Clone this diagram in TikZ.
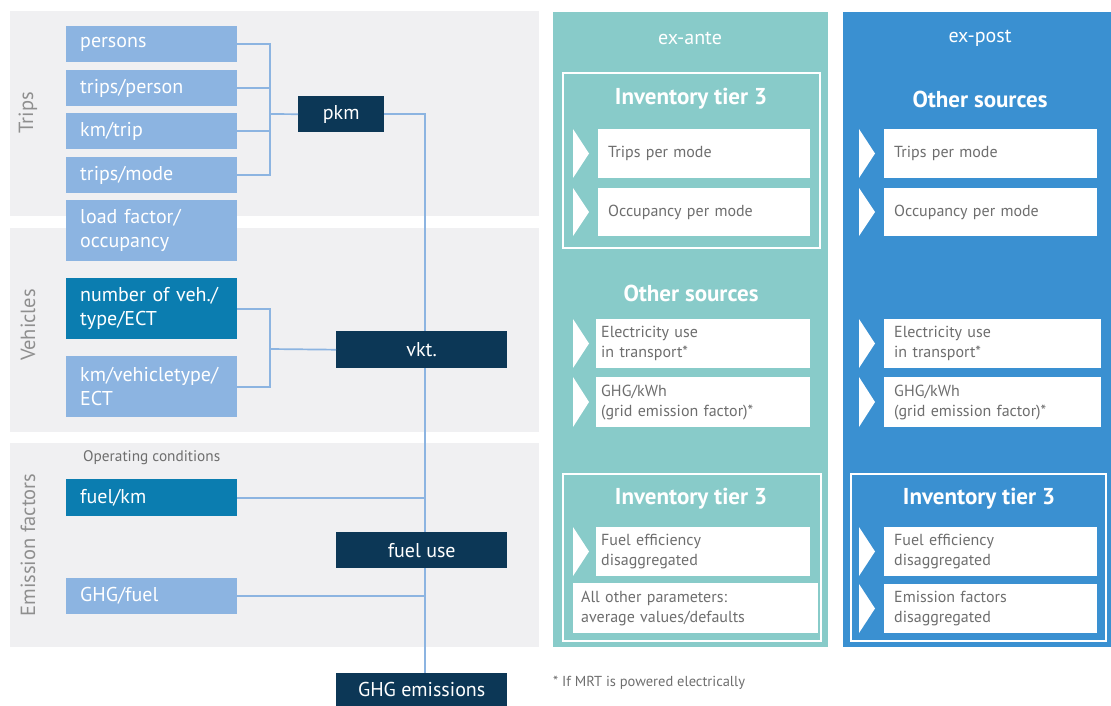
\documentclass[tikz,border=0pt]{standalone}
\usepackage{fontspec}
\setmainfont{PT Sans}
\definecolor{bandgray}{HTML}{F0F0F2}
\definecolor{lightb}{HTML}{8CB4E1}
\definecolor{tealb}{HTML}{0B7DB0}
\definecolor{navy}{HTML}{0C3756}
\definecolor{anteC}{HTML}{88CBC9}
\definecolor{postC}{HTML}{3A90D1}
\definecolor{lblgray}{HTML}{8F8F8F}
\definecolor{itemgray}{HTML}{6E6E6E}
\definecolor{connC}{HTML}{8CB4E1}
\tikzset{
  inbox/.style={anchor=north west, inner xsep=14pt, inner ysep=0pt, text width=143pt,
    minimum height=#1, align=left, text=white, font=\fontsize{20}{24}\selectfont},
  lbox/.style={inbox=#1, fill=lightb},
  tbox/.style={inbox=#1, fill=tealb},
  dbox/.style={anchor=north west, inner sep=0pt, minimum width=171pt, minimum height=36pt,
    fill=navy, text=white, font=\fontsize{20}{22}\selectfont},
  conn/.style={draw=connC, line width=1.7pt},
  sidelbl/.style={rotate=90, text=lblgray, font=\fontsize{20.5}{22}\selectfont},
  colttl/.style={text=white, font=\fontsize{20}{22}\selectfont},
  secttl/.style={text=white, font=\bfseries\fontsize{23}{26}\selectfont},
  item/.style={anchor=north west, fill=white, inner xsep=10pt, inner ysep=0pt,
    minimum height=#1, align=left, text=itemgray, font=\fontsize{16}{20}\selectfont},
  frame/.style={draw=white, line width=1.8pt},
  chev/.style={fill=white},
}
\begin{document}
\begin{tikzpicture}[x=1pt,y=-1pt]
\useasboundingbox (0,0) rectangle (1111,706);
% bands
\fill[bandgray] (10,11) rectangle (539,216);
\fill[bandgray] (10,228) rectangle (539,432);
\fill[bandgray] (10,443) rectangle (539,647);
\node[sidelbl] (lTrips) at (28,113) {Trips};
\node[sidelbl] (lVeh) at (28,325) {Vehicles};
\node[sidelbl] (lEm) at (28,545) {Emission factors};
% input boxes
\node[lbox=36pt] (persons) at (66,26) {persons};
\node[lbox=36pt] (tperson) at (66,70) {trips/person};
\node[lbox=36pt] (kmtrip) at (66,113) {km/trip};
\node[lbox=36pt] (tmode) at (66,157) {trips/mode};
\node[lbox=61pt] (load) at (66,200) {load factor/\\occupancy};
\node[tbox=61pt] (nveh) at (66,278) {number of veh./\\type/ECT};
\node[lbox=61pt] (kmveh) at (66,356) {km/vehicletype/\\ECT};
\node[anchor=west, text=itemgray, font=\fontsize{15.3}{18}\selectfont, inner sep=0pt] (opc) at (83,458) {Operating conditions};
\node[tbox=37pt] (fuelkm) at (66,479) {fuel/km};
\node[lbox=36pt] (ghgfuel) at (66,578) {GHG/fuel};
% result boxes
\node[dbox, minimum width=86pt] (pkm) at (298,96) {pkm};
\node[dbox, minimum height=37pt] (vkt) at (336,331) {vkt.};
\node[dbox] (fueluse) at (336,532) {fuel use};
\node[dbox, minimum height=33pt] (ghg) at (336,673) {GHG emissions};
% connectors
\coordinate (tj) at (270,114);
\coordinate (vj) at (270,349);
\coordinate (vx) at ([xshift=3.5pt]vkt.south);
\draw[conn] (persons.east) -| (tj);
\draw[conn] (tmode.east) -| (tj);
\draw[conn] (tperson.east) -- (tperson.east -| tj);
\draw[conn] (kmtrip.east) -- (kmtrip.east -| tj);
\draw[conn] (tj) -- (pkm.west);
\draw[conn] (nveh.east) -| (vj);
\draw[conn] (kmveh.east) -| (vj);
\draw[conn] (vj) -- (vkt.west);
\draw[conn] (pkm.east) -| ([xshift=3.5pt]vkt.north);
\draw[conn] ([xshift=3.5pt]vkt.south) -- ([xshift=3.5pt]fueluse.north);
\draw[conn] ([xshift=3.5pt]fueluse.south) -- ([xshift=3.5pt]ghg.north);
\draw[conn] (fuelkm.east) -- (fuelkm.east -| vx);
\draw[conn] (ghgfuel.east) -- (ghgfuel.east -| vx);
% panels
\fill[anteC] (553,12) rectangle (828,647);
\fill[postC] (843,12) rectangle (1111,647);
\node[colttl] (ante) at (690,38) {ex-ante};
\node[colttl] (post) at (980,38) {ex-post};
% ex-ante top frame
\draw[frame] (563,73) rectangle (820,248);
\node[secttl] (a1t) at (691,99) {Inventory tier 3};
\fill[chev] (573,129) -- (589,153.5) -- (573,178) -- cycle;
\node[item=49pt, minimum width=212pt, text width=192pt] (a1a) at (598,129) {Trips per mode};
\fill[chev] (573,188) -- (589,212) -- (573,236) -- cycle;
\node[item=48pt, minimum width=212pt, text width=192pt] (a1b) at (598,188) {Occupancy per mode};
% ex-ante other sources
\node[secttl] (a2t) at (691,293) {Other sources};
\fill[chev] (573,319) -- (589,343.5) -- (573,368) -- cycle;
\node[item=49pt, minimum width=214pt, text width=204pt, inner xsep=5pt] (a2a) at (596,319) {Electricity use\\in transport*};
\fill[chev] (573,377) -- (589,402) -- (573,427) -- cycle;
\node[item=50pt, minimum width=214pt, text width=204pt, inner xsep=5pt] (a2b) at (596,377) {GHG/kWh\\(grid emission factor)*};
% ex-ante lower frame
\draw[frame] (563,474) rectangle (821,641);
\node[secttl] (a3t) at (691,499) {Inventory tier 3};
\fill[chev] (573,527) -- (589,551.5) -- (573,576) -- cycle;
\node[item=49pt, minimum width=214pt, text width=204pt, inner xsep=5pt] (a3a) at (596,527) {Fuel efficiency\\disaggregated};
\node[item=50pt, minimum width=237pt, text width=229pt, inner xsep=8pt] (a3b) at (573,583) {All other parameters:\\average values/defaults};
% ex-post top
\node[secttl] (p1t) at (980,99) {Other sources};
\fill[chev] (859,129) -- (875,153.5) -- (859,178) -- cycle;
\node[item=49pt, minimum width=213pt, text width=193pt] (p1a) at (884,129) {Trips per mode};
\fill[chev] (859,188) -- (875,212) -- (859,236) -- cycle;
\node[item=48pt, minimum width=213pt, text width=193pt] (p1b) at (884,188) {Occupancy per mode};
\fill[chev] (859,319) -- (875,343.5) -- (859,368) -- cycle;
\node[item=49pt, minimum width=217pt, text width=197pt] (p2a) at (884,319) {Electricity use\\in transport*};
\fill[chev] (859,377) -- (875,402) -- (859,427) -- cycle;
\node[item=50pt, minimum width=217pt, text width=197pt] (p2b) at (884,377) {GHG/kWh\\(grid emission factor)*};
% ex-post lower frame
\draw[frame] (851,474) rectangle (1106,641);
\node[secttl] (p3t) at (979,499) {Inventory tier 3};
\fill[chev] (859,527) -- (875,551.5) -- (859,576) -- cycle;
\node[item=49pt, minimum width=213pt, text width=193pt] (p3a) at (884,527) {Fuel efficiency\\disaggregated};
\fill[chev] (859,584) -- (875,608.5) -- (859,633) -- cycle;
\node[item=49pt, minimum width=213pt, text width=193pt] (p3b) at (884,584) {Emission factors\\disaggregated};
% footnote
\node[anchor=west, inner sep=0pt, text=itemgray, font=\fontsize{14.5}{17}\selectfont] (fn) at (553,683) {* If MRT is powered electrically};
\end{tikzpicture}
\end{document}
